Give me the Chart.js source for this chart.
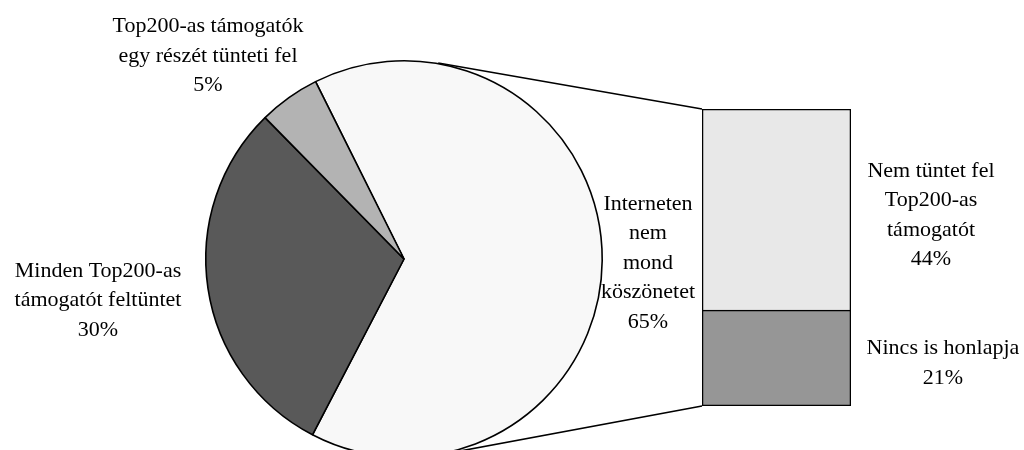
<!DOCTYPE html>
<html><head><meta charset="utf-8">
<script src="https://cdn.jsdelivr.net/npm/chart.js@4"></script>
<style>
html,body{margin:0;padding:0;background:#fff;overflow:hidden;width:1024px;height:450px}
#wrap{position:relative;width:1024px;height:450px;overflow:hidden;background:#fff}
canvas{position:absolute;left:0;top:0}
#fontprobe{position:absolute;left:-9999px;top:0;font-family:"Liberation Serif";font-size:22px}
</style></head><body>
<div id="fontprobe">Top200-as támogatók köszönetet 65%</div>
<div id="wrap">
<canvas id="pie" width="1024" height="470" style="width:1024px;height:470px"></canvas>
<canvas id="bar" width="1024" height="450" style="width:1024px;height:450px"></canvas>
</div>
<script>
// ---- data ----
const pieLabels = [
  ['Interneten', 'nem', 'mond', 'köszönetet'],
  ['Minden Top200-as', 'támogatót feltüntet'],
  ['Top200-as támogatók', 'egy részét tünteti fel']
];
const pieValues = [65, 30, 5];
const barLabels = [
  ['Nem tüntet fel', 'Top200-as', 'támogatót'],
  ['Nincs is honlapja']
];
const barValues = [44, 21];

// ---- styles ----
const pieColors = ['#f8f8f8', '#595959', '#b3b3b3'];
const barColors = ['#e8e8e8', '#969696'];
const FONT = '22px "Liberation Serif"';
const LH = 29.5;
const pieLabelOffsets = [[244, 9.5], [-306, 47], [-196, -197.5]];
const barLabelOffsets = [[80, 11.5], [92, 10.75]];

Chart.defaults.font.family = '"Liberation Serif"';

function drawBlock(ctx, lines, x, midY) {
  ctx.save();
  ctx.font = FONT;
  ctx.fillStyle = '#000';
  ctx.textAlign = 'center';
  ctx.textBaseline = 'alphabetic';
  const first = midY - (lines.length - 1) * LH / 2;
  lines.forEach((l, i) => ctx.fillText(l, x, first + i * LH));
  ctx.restore();
}

function build() {
  const pieChart = new Chart(document.getElementById('pie'), {
    type: 'pie',
    data: {
      labels: pieLabels.map(l => l.join(' ')),
      datasets: [{
        data: pieValues,
        backgroundColor: pieColors,
        borderColor: '#000',
        borderWidth: 1.6
      }]
    },
    options: {
      responsive: false,
      animation: false,
      devicePixelRatio: 1,
      rotation: -26.5,
      layout: { padding: { left: 205, right: 421, top: 60, bottom: 12 } },
      plugins: { legend: { display: false }, tooltip: { enabled: false } },
      events: []
    }
  });

  const overlay = {
    id: 'overlay',
    afterDraw(chart) {
      const ctx = chart.ctx;
      const pm = pieChart.getDatasetMeta(0).data;
      const cx = pm[0].x, cy = pm[0].y, r = pm[0].outerRadius + 0.8;
      const topSeg = chart.getDatasetMeta(1).data[0];
      const botSeg = chart.getDatasetMeta(0).data[0];
      const left = topSeg.x - topSeg.width / 2;
      const right = topSeg.x + topSeg.width / 2;
      const pTop = { x: left, y: topSeg.y };
      const pBot = { x: left, y: botSeg.base };
      function tangent(P, upper) {
        const dx = P.x - cx, dy = P.y - cy, d = Math.hypot(dx, dy);
        const a = Math.atan2(dy, dx), b = Math.acos(r / d);
        const t = upper ? a - b : a + b;
        return { x: cx + r * Math.cos(t), y: cy + r * Math.sin(t) };
      }
      const t1 = tangent(pTop, true), t2 = tangent(pBot, false);
      ctx.save();
      ctx.strokeStyle = '#000';
      ctx.lineWidth = 1.6;
      ctx.beginPath();
      ctx.moveTo(t1.x, t1.y); ctx.lineTo(pTop.x, pTop.y);
      ctx.moveTo(t2.x, t2.y); ctx.lineTo(pBot.x, pBot.y);
      ctx.stroke();
      ctx.restore();

      pieLabels.forEach((lines, i) => {
        const o = pieLabelOffsets[i];
        drawBlock(ctx, lines.concat([pieValues[i] + '%']), cx + o[0], cy + o[1]);
      });
      const segs = [topSeg, botSeg];
      barLabels.forEach((lines, i) => {
        const s = segs[i];
        const mid = (s.y + s.base) / 2;
        const o = barLabelOffsets[i];
        drawBlock(ctx, lines.concat([barValues[i] + '%']), right + o[0], mid + o[1]);
      });
    }
  };

  new Chart(document.getElementById('bar'), {
    type: 'bar',
    data: {
      labels: [''],
      datasets: [
        {
          label: barLabels[1].join(' '),
          data: [barValues[1]],
          backgroundColor: barColors[1],
          borderColor: '#000',
          borderWidth: 1.6,
          borderSkipped: false
        },
        {
          label: barLabels[0].join(' '),
          data: [barValues[0]],
          backgroundColor: barColors[0],
          borderColor: '#000',
          borderWidth: 1.6,
          borderSkipped: 'start'
        }
      ]
    },
    options: {
      responsive: false,
      animation: false,
      devicePixelRatio: 1,
      barPercentage: 1,
      categoryPercentage: 1,
      layout: { padding: { left: 702, right: 173, top: 109, bottom: 44 } },
      scales: {
        x: { display: false, stacked: true },
        y: { display: false, stacked: true, min: 0, max: barValues.reduce((a, b) => a + b, 0) }
      },
      plugins: { legend: { display: false }, tooltip: { enabled: false } },
      events: []
    },
    plugins: [overlay]
  });
}

if (document.fonts && document.fonts.load) {
  document.fonts.load(FONT, 'Top200-as támogatók').then(build, build);
} else {
  build();
}
</script>
</body></html>
